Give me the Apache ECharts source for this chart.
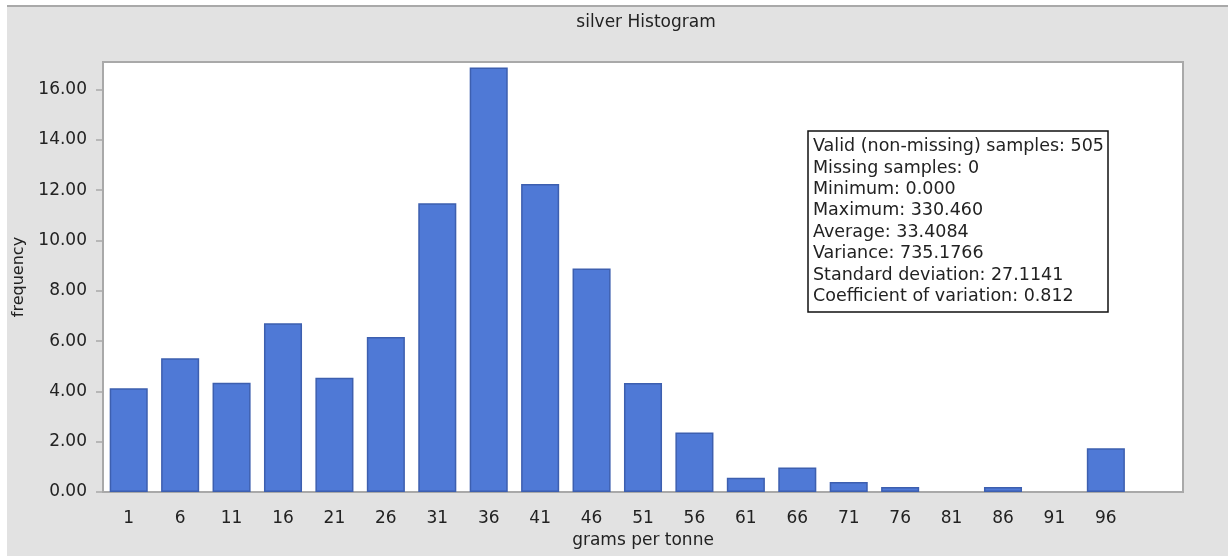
<!DOCTYPE html>
<html>
<head>
<meta charset="utf-8">
<script src="https://cdn.jsdelivr.net/npm/echarts@6/dist/echarts.min.js"></script>
<style>
  html, body { margin: 0; padding: 0; background: #fff; }
  #box {
    position: absolute;
    left: 7px;
    top: 5px;
    width: 1221px;
    height: 551px;
    border-top: 2px solid #a9a9a9;
    background: #e2e2e2;
  }
</style>
</head>
<body>
<div id="box"></div>
<script>
// bins of grams per tonne (last slot is an empty bin)
const categories = ['1', '6', '11', '16', '21', '26', '31', '36', '41', '46',
  '51', '56', '61', '66', '71', '76', '81', '86', '91', '96', ''];
// frequency (%) per bin
const frequency = [4.13, 5.32, 4.34, 6.71, 4.54, 6.16, 11.48, 16.88, 12.25, 8.89,
  4.33, 2.37, 0.57, 0.97, 0.40, 0.20, 0, 0.20, 0, 1.74, null];
const yTicks = [0, 2, 4, 6, 8, 10, 12, 14, 16];
const statsLines = [
  'Valid (non-missing) samples: 505',
  'Missing samples: 0',
  'Minimum: 0.000',
  'Maximum: 330.460',
  'Average: 33.4084',
  'Variance: 735.1766',
  'Standard deviation: 27.1141',
  'Coefficient of variation: 0.812',
];

const font = 'DejaVu Sans, Arial, sans-serif';
const textColor = '#222';

const chart = echarts.init(document.getElementById('box'));

let option = {
  animation: false,
  textStyle: { fontFamily: font },
  title: [
    {
      text: 'silver Histogram',
      left: 634,
      top: 2,
      textAlign: 'center',
      textStyle: { fontSize: 17, fontWeight: 'normal', color: textColor },
    },
    {
      text: statsLines.join('\n'),
      left: 801,
      top: 124,
      padding: [5, 4, 5, 5],
      borderColor: '#111',
      borderWidth: 1.5,
      backgroundColor: '#fff',
      textStyle: { fontSize: 17.5, fontWeight: 'normal', color: textColor, lineHeight: 21.4 },
    },
  ],
  grid: {
    left: 96,
    top: 55,
    width: 1080,
    height: 430,
    outerBoundsMode: 'none',
    show: true,
    backgroundColor: '#fff',
    borderColor: '#a9a9a9',
    borderWidth: 2,
  },
  xAxis: {
    type: 'category',
    data: categories,
    boundaryGap: true,
    name: 'grams per tonne',
    nameLocation: 'middle',
    nameGap: 37,
    nameTextStyle: { fontSize: 17, color: textColor },
    axisLine: { lineStyle: { color: '#a9a9a9', width: 2 } },
    axisTick: { alignWithLabel: true, length: 8, lineStyle: { color: '#a9a9a9', width: 2 } },
    axisLabel: { fontSize: 17, color: textColor, margin: 18, interval: 0 },
  },
  yAxis: {
    type: 'value',
    min: 0,
    max: 17.1,
    interval: 2,
    name: 'frequency',
    nameLocation: 'middle',
    nameGap: 76,
    nameTextStyle: { fontSize: 16, color: textColor },
    splitLine: { show: false },
    axisLine: { show: true, lineStyle: { color: '#a9a9a9', width: 2 } },
    axisTick: { show: true, length: 7, customValues: yTicks, lineStyle: { color: '#a9a9a9', width: 1.5 } },
    axisLabel: {
      fontSize: 17,
      color: textColor,
      margin: 16,
      customValues: yTicks,
      formatter: (v) => v.toFixed(2),
    },
  },
  series: [
    {
      type: 'bar',
      // empty bins draw nothing
      data: frequency.map((v) => (v === 0 ? null : v)),
      barWidth: '74%',
      itemStyle: { color: '#4f79d6', borderColor: '#3d5faf', borderWidth: 1.5 },
    },
  ],
};

chart.setOption(option);
</script>
</body>
</html>
